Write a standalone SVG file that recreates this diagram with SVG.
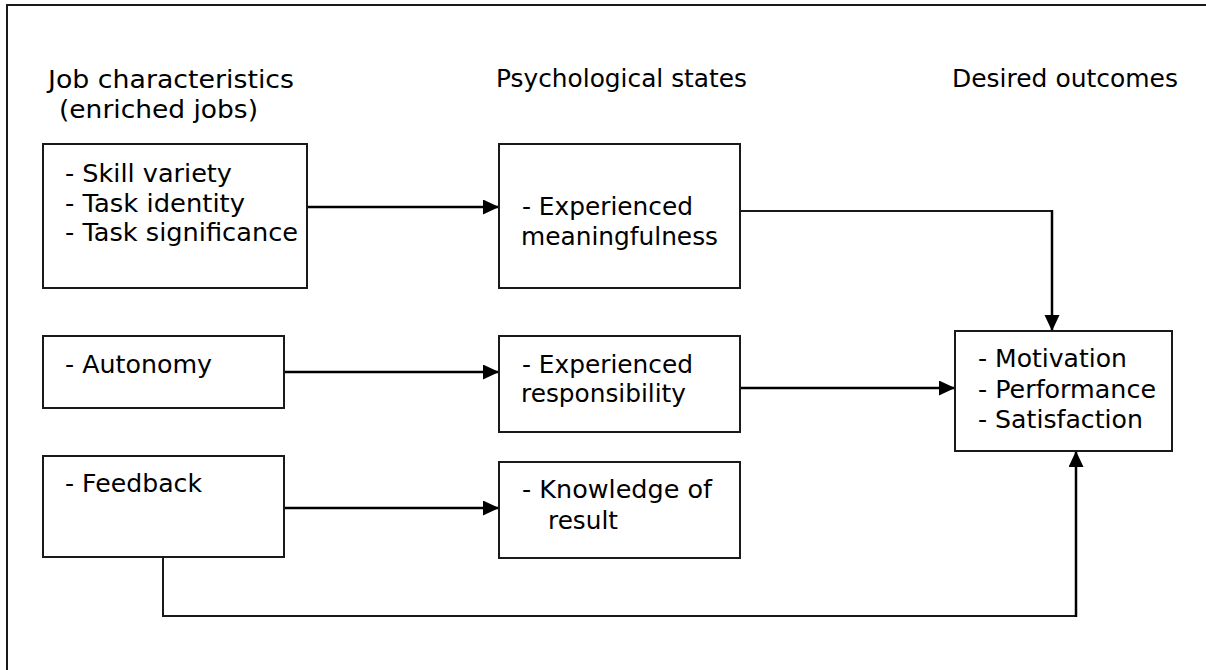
<svg xmlns="http://www.w3.org/2000/svg" width="1206" height="670" viewBox="0 0 1206 670">
<style>
  .box { fill: #ffffff; stroke: #1a1a1a; stroke-width: 2; }
  .t { font-family: "DejaVu Sans", Verdana, sans-serif; font-size: 25px; fill: #000000; }
  .c { fill: none; stroke: #000000; stroke-width: 2.5; }
  .c2 { fill: none; stroke: #1a1a1a; stroke-width: 2; }
</style>
<defs>
  <marker id="ah" markerUnits="userSpaceOnUse" markerWidth="17" markerHeight="16" refX="16" refY="7.5" orient="auto">
    <path d="M0,0 L16,7.5 L0,15 z" fill="#000000"/>
  </marker>
</defs>
<rect x="0" y="0" width="1206" height="670" fill="#ffffff"/>
<rect x="7" y="5" width="1220" height="690" fill="none" stroke="#1a1a1a" stroke-width="2"/>

<g id="headings">
  <text class="t" x="48" y="88" textLength="246" lengthAdjust="spacingAndGlyphs">Job characteristics</text>
  <text class="t" x="59" y="118" textLength="199" lengthAdjust="spacingAndGlyphs">(enriched jobs)</text>
  <text class="t" x="496" y="87" textLength="251" lengthAdjust="spacingAndGlyphs">Psychological states</text>
  <text class="t" x="952" y="87" textLength="226" lengthAdjust="spacingAndGlyphs">Desired outcomes</text>
</g>

<g id="connectors">
  <path class="c" d="M307,207 H499" marker-end="url(#ah)"/>
  <path class="c" d="M284,372 H499" marker-end="url(#ah)"/>
  <path class="c" d="M284,508 H499" marker-end="url(#ah)"/>
  <path class="c2" d="M740,211 H1052"/>
  <path class="c" d="M1052,210 V331" marker-end="url(#ah)"/>
  <path class="c" d="M740,388 H955" marker-end="url(#ah)"/>
  <path class="c2" d="M163,557 V616 H1076"/>
  <path class="c" d="M1076,617 V451" marker-end="url(#ah)"/>
</g>

<g id="node-skill">
  <rect class="box" x="43" y="144" width="264" height="144"/>
  <text class="t" x="65" y="182" textLength="167" lengthAdjust="spacingAndGlyphs">- Skill variety</text>
  <text class="t" x="65" y="212" textLength="180" lengthAdjust="spacingAndGlyphs">- Task identity</text>
  <text class="t" x="65" y="241" textLength="233" lengthAdjust="spacingAndGlyphs">- Task significance</text>
</g>

<g id="node-autonomy">
  <rect class="box" x="43" y="336" width="241" height="72"/>
  <text class="t" x="65" y="373" textLength="147" lengthAdjust="spacingAndGlyphs">- Autonomy</text>
</g>

<g id="node-feedback">
  <rect class="box" x="43" y="456" width="241" height="101"/>
  <text class="t" x="65" y="492" textLength="137" lengthAdjust="spacingAndGlyphs">- Feedback</text>
</g>

<g id="node-meaningfulness">
  <rect class="box" x="499" y="144" width="241" height="144"/>
  <text class="t" x="522" y="215" textLength="171" lengthAdjust="spacingAndGlyphs">- Experienced</text>
  <text class="t" x="521" y="245" textLength="197" lengthAdjust="spacingAndGlyphs">meaningfulness</text>
</g>

<g id="node-responsibility">
  <rect class="box" x="499" y="336" width="241" height="96"/>
  <text class="t" x="522" y="373" textLength="171" lengthAdjust="spacingAndGlyphs">- Experienced</text>
  <text class="t" x="521" y="402" textLength="165" lengthAdjust="spacingAndGlyphs">responsibility</text>
</g>

<g id="node-knowledge">
  <rect class="box" x="499" y="462" width="241" height="96"/>
  <text class="t" x="522" y="498" textLength="190" lengthAdjust="spacingAndGlyphs">- Knowledge of</text>
  <text class="t" x="548" y="529" textLength="70" lengthAdjust="spacingAndGlyphs">result</text>
</g>

<g id="node-outcomes">
  <rect class="box" x="955" y="331" width="217" height="120"/>
  <text class="t" x="978" y="367" textLength="149" lengthAdjust="spacingAndGlyphs">- Motivation</text>
  <text class="t" x="978" y="398" textLength="178" lengthAdjust="spacingAndGlyphs">- Performance</text>
  <text class="t" x="978" y="428" textLength="165" lengthAdjust="spacingAndGlyphs">- Satisfaction</text>
</g>
</svg>
